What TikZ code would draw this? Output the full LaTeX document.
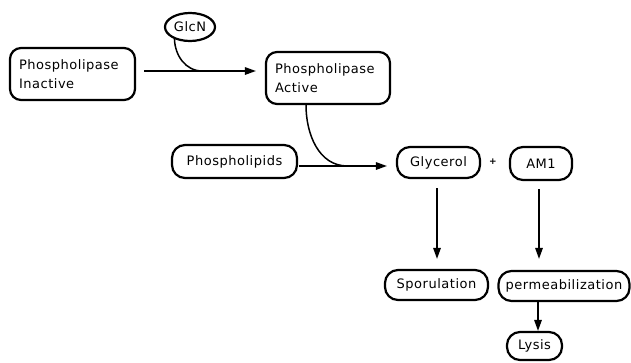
\documentclass[tikz,border=0pt]{standalone}
\usepackage{fontspec}
\setmainfont[LetterSpace=4]{DejaVu Sans}
\usetikzlibrary{shapes.geometric,arrows.meta,calc}
\begin{document}
\begin{tikzpicture}[x=1pt,y=-1pt,
  box/.style={draw,line width=2.2pt,rounded corners=11pt,inner sep=0pt,font=\fontsize{13}{19}\selectfont},
  pill/.style={box,rounded corners=13pt},
  conn/.style={line width=1.5pt},
  arr/.style={conn,-{Triangle[length=11pt,width=7.5pt]}}]
\useasboundingbox (0,0) rectangle (631,362);
\node[box,minimum width=125pt,minimum height=52pt,text width=107pt,align=left] (inact) at (72.5,74) {Phospholipase\\Inactive};
\node[box,minimum width=124pt,minimum height=52pt,text width=106pt,align=left] (act) at (328,78) {Phospholipase\\Active};
\node[draw,ellipse,line width=2.2pt,minimum width=50pt,minimum height=28pt,inner sep=0pt,font=\fontsize{13}{15}\selectfont] (glcn) at (190,27) {GlcN};
\node[pill,minimum width=125pt,minimum height=33pt] (lipids) at (234.5,161.5) {Phospholipids};
\node[pill,minimum width=83pt,minimum height=31pt] (glyc) at (438.5,162.5) {Glycerol};
\node[font=\fontsize{9}{10}\selectfont\bfseries] (plus) at (493,162) {+};
\node[pill,minimum width=62pt,minimum height=33pt] (am) at (541,163.5) {AM1};
\node[pill,minimum width=103pt,minimum height=30pt] (spor) at (436.5,285) {Sporulation};
\node[pill,minimum width=131pt,minimum height=30pt] (perm) at (564,286) {permeabilization};
\node[pill,minimum width=55pt,minimum height=28pt] (lysis) at (534.5,346) {Lysis};
% inactive -> active
\coordinate (s1) at ($(inact.east)+(8pt,3pt)$);
\coordinate (e1) at ($(act.west |- s1)+(-9pt,0pt)$);
\draw[arr] (s1) -- (e1);
\coordinate (j1) at ($(s1)!0.52!(e1)$);
\draw[conn] (glcn.218) to[out=-88,in=180] (j1);
% phospholipids -> glycerol
\coordinate (s2) at ($(lipids.east)+(1pt,-4.5pt)$);
\coordinate (e2) at ($(glyc.west |- s2)+(-9pt,0pt)$);
\draw[arr] (s2) -- (e2);
\coordinate (j2) at ($(s2)!0.55!(e2)$);
\draw[conn] ($(act.south)+(-22pt,0pt)$) to[out=-90,in=180] (j2);
% vertical arrows
\draw[arr] ($(glyc.south)+(-1.5pt,-9pt)$) -- ($(spor.north -| glyc.south)+(-1.5pt,10pt)$);
\draw[arr] ($(am.south)+(-2pt,-8pt)$) -- ($(perm.north -| am.south)+(-2pt,11pt)$);
\draw[arr] (perm.south -| lysis.north) ++(3.5pt,0pt) -- ($(lysis.north)+(3.5pt,0pt)$);
\end{tikzpicture}
\end{document}
